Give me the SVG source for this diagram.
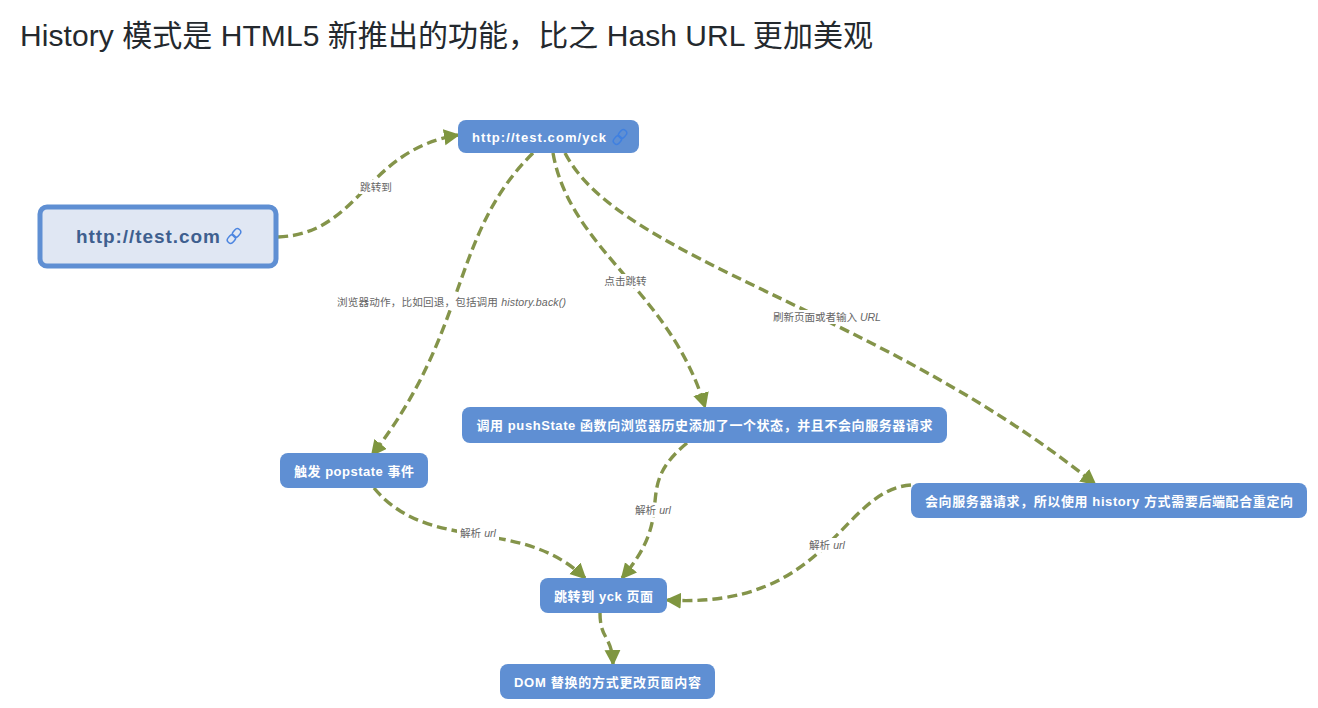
<svg xmlns="http://www.w3.org/2000/svg" width="1318" height="708" viewBox="0 0 1318 708">
<style>
text{font-family:"Liberation Sans","Noto Sans CJK SC",sans-serif}
.n{fill:#5f8fd3}
.t{fill:#fff;font-size:13px;font-weight:700;text-anchor:middle}
.e{fill:none;stroke:#84944a;stroke-width:3.4;stroke-dasharray:10 5;marker-end:url(#a)}
.l{fill:#666;font-size:10.6px;text-anchor:middle}
.bg{fill:#fff}
.i{fill:none;stroke-width:1.5}
</style>
<defs>
<marker id="a" markerUnits="userSpaceOnUse" markerWidth="18" markerHeight="18" refX="14" refY="8" orient="auto"><path d="M0 0L16 8L0 16Z" fill="#7f9640"/></marker>
<g id="link"><rect x="-3.300" y="-8.500" width="6.600" height="9" rx="3.300" class="i" transform="rotate(40)"/><rect x="-3.300" y="-.5" width="6.600" height="9" rx="3.300" class="i" transform="rotate(40)"/></g>
</defs>
<text x="20" y="46" font-size="30" fill="#24292e" textLength="853">History 模式是 HTML5 新推出的功能，比之 Hash URL 更加美观</text>
<g id="connectors">
<path class="e" d="M278 237C360 234 365 150 458 135"/>
<path class="e" d="M533 153C450 235 470 330 372 455"/>
<path class="e" d="M553 153C570 250 670 290 705 407"/>
<path class="e" d="M565 153C620 260 880 310 1095 484"/>
<path class="e" d="M374 488C430 555 520 515 585 578"/>
<path class="e" d="M687 443C630 490 680 510 622 578"/>
<path class="e" d="M911 485C840 490 830 610 667 600"/>
<path class="e" d="M600 613C600 640 612 635 613 664"/>
<g id="edge-labels">
<rect class="bg" x="359" y="180" width="35" height="14"/><text class="l" x="376" y="191">跳转到</text>
<rect class="bg" x="335" y="295" width="233" height="15"/><text class="l" x="451.500" y="306" textLength="229">浏览器动作，比如回退，包括调用 <tspan font-style="italic">history.back()</tspan></text>
<rect class="bg" x="602" y="274" width="47" height="14"/><text class="l" x="625.500" y="284.500">点击跳转</text>
<rect class="bg" x="771" y="310" width="112" height="14"/><text class="l" x="827" y="321" textLength="108">刷新页面或者输入 <tspan font-style="italic">URL</tspan></text>
<rect class="bg" x="457" y="526" width="42" height="14"/><text class="l" x="478" y="537">解析 <tspan font-style="italic">url</tspan></text>
<rect class="bg" x="632" y="503" width="42" height="14"/><text class="l" x="653" y="514">解析 <tspan font-style="italic">url</tspan></text>
<rect class="bg" x="806" y="538" width="42" height="14"/><text class="l" x="827" y="549">解析 <tspan font-style="italic">url</tspan></text>
</g>
</g>
<g id="root"><rect x="40" y="207" width="236" height="59" rx="7" fill="#e0e7f3" stroke="#5f8fd3" stroke-width="5"/><text x="148" y="243" text-anchor="middle" font-size="19" font-weight="700" fill="#3e5f8f" textLength="144">http://test.com</text><use href="#link" transform="translate(234 236)" stroke="#4d86e0"/></g>
<g id="yck"><rect class="n" x="458" y="120" width="181" height="33" rx="8"/><text class="t" x="539" y="142" textLength="134">http://test.com/yck</text><use href="#link" transform="translate(620 137)" stroke="#4080e0"/></g>
<g id="popstate"><rect class="n" x="280" y="453" width="148" height="35" rx="8"/><text class="t" x="354" y="476" textLength="120">触发 popstate 事件</text></g>
<g id="pushstate"><rect class="n" x="462" y="407" width="485" height="36" rx="8"/><text class="t" x="704.500" y="430" textLength="456">调用 pushState 函数向浏览器历史添加了一个状态，并且不会向服务器请求</text></g>
<g id="server"><rect class="n" x="911" y="483" width="396" height="35" rx="8"/><text class="t" x="1109" y="506" textLength="368">会向服务器请求，所以使用 history 方式需要后端配合重定向</text></g>
<g id="jump"><rect class="n" x="540" y="578" width="127" height="35" rx="8"/><text class="t" x="603.500" y="601" textLength="99">跳转到 yck 页面</text></g>
<g id="dom"><rect class="n" x="500" y="664" width="215" height="35" rx="8"/><text class="t" x="607.500" y="687" textLength="187">DOM 替换的方式更改页面内容</text></g>
</svg>
